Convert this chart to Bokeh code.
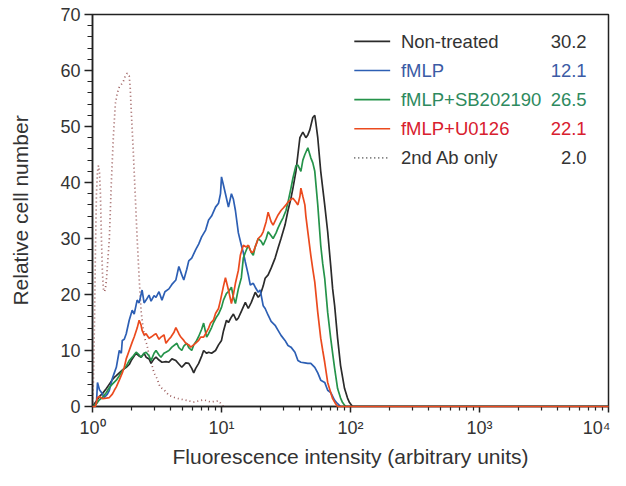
from bokeh.plotting import figure
from bokeh.models import FixedTicker, Label, Range1d
from bokeh.embed import file_html
from bokeh.resources import INLINE

# ---------------- data ----------------
ab_x = [1.000, 1.018, 1.036, 1.054, 1.073, 1.093, 1.112, 1.132, 1.152, 1.173, 1.194, 1.215, 1.237,
        1.259, 1.281, 1.304, 1.351, 1.400, 1.450, 1.503, 1.557, 1.613, 1.672, 1.732, 1.794, 1.859,
        1.926, 1.960, 1.995, 2.067, 2.142, 2.219, 2.299, 2.382, 2.467, 2.557, 2.649, 2.745, 2.844,
        3.000, 3.162, 3.336, 3.580, 3.911, 4.429, 5.102, 6.090, 7.270, 8.230, 9.483, 10.36]
ab_y = [0, 5, 15, 28, 38, 42, 43, 42, 38, 30, 24, 21, 20.5,
        21, 22.5, 25, 30, 40, 48, 54, 56, 57, 57.5, 58, 59, 59.5,
        59, 57, 53, 46, 38, 30, 23, 17, 14, 12, 11, 9, 8,
        6, 5, 3.5, 3, 2, 1.5, 1.2, 0.8, 1.2, 0.8, 1.0, 0]

fmlp_x = [1.000, 1.073, 1.093, 1.132, 1.173, 1.237, 1.304, 1.351, 1.425, 1.476, 1.530, 1.613, 1.672,
          1.702, 1.763, 1.826, 1.926, 2.031, 2.104, 2.219, 2.299, 2.424, 2.512, 2.603, 2.745, 2.844,
          3.000, 3.107, 3.277, 3.455, 3.643, 3.911, 4.125, 4.429, 4.670, 4.924, 5.102, 5.380, 5.574,
          5.878, 6.310, 6.654, 7.017, 7.533, 7.943, 8.377, 8.990, 9.483, 9.824, 10.0, 10.36, 10.73,
          11.32, 11.94, 12.37, 12.82, 13.51, 14.25, 14.76, 15.30, 16.13, 16.72, 17.63, 18.26, 19.26,
          19.95, 21.04, 21.80, 22.99, 24.25, 26.03, 27.45, 28.94, 31.07, 32.77, 34.56, 37.09, 39.11,
          41.25, 44.29, 46.70, 49.24, 52.86, 55.75, 58.78, 63.10, 66.55, 70.20, 75.34, 79.43, 83.77,
          10000]
fmlp_y = [0, 0.5, 4.3, 3.0, 2.5, 1.6, 2.2, 2.9, 5, 6, 7, 10, 9.5,
          11.8, 12, 13, 15.4, 17.2, 16.5, 19, 18.5, 20.8, 18.5, 19, 19.9, 18.8,
          19.8, 19.5, 20.5, 19, 20.5, 21, 21.8, 22.6, 25, 23.5, 22.6, 24.5, 26,
          26.5, 28, 29, 30.3, 31.5, 33.3, 34, 35.6, 36.3, 38, 41, 39.5, 38,
          35.6, 38, 37, 35, 31, 28.8, 27.5, 25.8, 23.5, 21.7, 22, 21.3, 20.4,
          20.8, 18, 17.5, 16.3, 15.2, 14.5, 13.6, 12.7, 11.8, 10.9, 10.6, 9.7, 8.2,
          7.9, 7.8, 7.7, 7.7, 7.0, 6.0, 4.7, 4.3, 2.9, 2.5, 1.1, 0.5, 0,
          0]

nt_x = [1.000, 1.073, 1.132, 1.194, 1.281, 1.351, 1.425, 1.476, 1.530, 1.613, 1.702, 1.826, 1.926,
        1.995, 2.104, 2.180, 2.299, 2.382, 2.512, 2.603, 2.745, 2.844, 3.000, 3.107, 3.277, 3.455,
        3.709, 3.911, 4.125, 4.429, 4.670, 4.924, 5.286, 5.574, 5.878, 6.090, 6.310, 6.654, 7.017,
        7.270, 7.667, 7.943, 8.377, 8.990, 9.483, 10.0, 10.36, 10.93, 11.32, 11.94, 12.37, 13.05,
        13.51, 14.25, 15.30, 16.13, 17.02, 18.26, 19.26, 19.95, 21.04, 21.80, 22.99, 24.25, 26.03,
        27.45, 28.94, 31.07, 32.77, 34.56, 35.80, 37.75, 39.11, 40.53, 42.73, 45.08, 46.70, 48.38,
        51.03, 52.86, 53.79, 55.75, 58.78, 60.90, 63.10, 66.55, 70.20, 72.71, 75.34, 79.43, 83.77,
        89.94, 94.82, 98.24, 103.6, 10000]
nt_y = [0, 1, 1.8, 2.3, 3.2, 4, 4.8, 5.2, 5.5, 6, 6.5, 7, 7.5,
        8.2, 9, 9.5, 9, 8.8, 9.5, 8.8, 8.5, 7.7, 8.5, 8.8, 8.3, 7.9,
        8.0, 7.9, 8.5, 8.2, 7.6, 7.0, 7.8, 7.7, 6.8, 6.0, 6.8, 7.7, 9,
        10, 9.5, 9.7, 9.5, 10, 11, 11.8, 13.5, 15.4, 15, 16, 16.5, 15.4,
        15.8, 17, 18.6, 17.5, 18.6, 20.4, 19.5, 19.9, 21.5, 22.9, 23.5, 24.7, 26.5,
        28.3, 30, 32.4, 35, 37.2, 39, 42, 45, 48, 49, 48, 48.5, 49.4,
        51.6, 52, 50.8, 48, 42, 39, 36, 31.2, 25.2, 21, 18, 12.2, 7.3,
        3.2, 1.5, 0.7, 0, 0]

sb_x = [1.000, 1.073, 1.132, 1.194, 1.281, 1.351, 1.425, 1.530, 1.613, 1.702, 1.826, 1.926, 2.067,
        2.180, 2.299, 2.382, 2.512, 2.603, 2.745, 2.844, 3.000, 3.107, 3.277, 3.395, 3.580, 3.709,
        3.911, 4.125, 4.508, 4.670, 4.924, 5.102, 5.380, 5.574, 5.878, 6.090, 6.422, 6.654, 7.017,
        7.270, 7.667, 7.943, 8.377, 8.682, 9.152, 9.483, 10.0, 10.36, 10.93, 11.32, 11.94, 12.37,
        12.82, 13.51, 14.25, 14.76, 15.30, 16.13, 17.02, 17.63, 18.26, 19.26, 20.31, 21.04, 22.19,
        22.99, 24.25, 25.12, 26.50, 27.45, 28.94, 30.00, 31.62, 32.77, 34.56, 35.80, 37.75, 39.11,
        41.25, 42.73, 44.29, 46.70, 49.24, 51.03, 52.86, 55.75, 58.78, 60.90, 63.10, 66.55, 70.20,
        72.71, 75.34, 79.43, 83.77, 86.81, 91.53, 10000]
sb_y = [0, 0.5, 1.2, 1.6, 2.5, 3.4, 4, 4.7, 5.5, 6.4, 7.2, 8.2, 9,
        9.7, 9.2, 8.8, 9.5, 9.7, 9, 8.2, 9.5, 10, 9.2, 8.8, 9.5, 9.7,
        10, 10.6, 11.3, 10.5, 10, 10.8, 11.3, 10.5, 10, 11, 11.8, 12.5, 13.8,
        14.9, 12.4, 13, 14.1, 15, 16, 16.5, 17.7, 19, 20.2, 20.5, 21.3, 19.5,
        18.4, 21, 23, 26.5, 27.5, 28.8, 27.5, 27, 28.5, 30, 29.5, 28.8, 30,
        31.2, 30.5, 30, 31, 31.9, 33, 33.7, 35, 36.5, 39, 40.8, 43, 43.1,
        42, 44, 45, 46.2, 44.4, 43.5, 42, 36, 28.8, 25.5, 22.9, 16.8, 12.2,
        9.5, 6.8, 3.2, 1.5, 0.7, 0, 0]

u0_x = [1.000, 1.054, 1.093, 1.132, 1.194, 1.281, 1.351, 1.425, 1.476, 1.530, 1.613, 1.702, 1.763,
        1.826, 1.926, 2.031, 2.104, 2.219, 2.299, 2.382, 2.424, 2.512, 2.603, 2.745, 2.844, 3.000,
        3.107, 3.277, 3.395, 3.580, 3.709, 3.911, 4.053, 4.273, 4.429, 4.670, 4.838, 5.102, 5.286,
        5.574, 5.774, 6.090, 6.310, 6.654, 6.894, 7.270, 7.533, 7.943, 8.230, 8.682, 8.990, 9.483,
        9.824, 10.36, 10.73, 11.32, 11.94, 12.37, 12.82, 13.51, 14.00, 14.76, 15.57, 16.13, 17.02,
        17.63, 18.59, 19.26, 20.31, 21.04, 22.19, 22.99, 24.25, 25.12, 26.50, 27.45, 28.94, 30.00,
        31.62, 32.77, 34.56, 35.80, 37.75, 39.11, 40.53, 41.25, 42.73, 44.29, 45.08, 46.70, 49.24,
        51.03, 52.86, 55.75, 58.78, 60.90, 63.10, 66.55, 70.20, 72.71, 76.66, 79.43, 10000]
u0_y = [0, 0, 1.6, 1.8, 1.4, 1.5, 1.6, 2.2, 2.9, 3.5, 4.7, 6, 7,
        8.5, 10, 11.5, 12.4, 14, 15.4, 14.5, 13.6, 12.8, 13, 12.2, 12.4, 12.8,
        13, 12, 12.4, 12.8, 11.3, 12, 12.4, 13.2, 14.1, 13, 12.4, 11.8, 11.3,
        11, 10.6, 11, 11.3, 11.8, 12.4, 12.4, 13, 14, 14.9, 15.5, 16.6, 17.5,
        19, 21.5, 23, 20.8, 18.4, 20, 22, 24.3, 27, 28.8, 28.5, 28.8, 27.5,
        27.6, 29, 30, 30.5, 31.2, 33, 34.7, 33, 32.4, 33.5, 34.2, 35, 35.4,
        36, 36.5, 37, 37.2, 36.5, 36, 37.5, 39, 37.5, 36, 34, 31.2, 27,
        24.5, 22.2, 16.8, 12.2, 10, 7.9, 4.3, 2.5, 1.4, 0.5, 0, 0]

legend_names = ["Non-treated", "fMLP", "fMLP+SB202190", "fMLP+U0126", "2nd Ab only"]
legend_values = ["30.2", "12.1", "26.5", "22.1", "2.0"]
x_tick_values = [1, 10, 100, 1000, 10000]
x_tick_labels = ["10\u2070", "10\u00b9", "10\u00b2", "10\u00b3", "10\u2074"]
y_tick_values = [0, 10, 20, 30, 40, 50, 60, 70]

# ---------------- styling ----------------
FONT = "Liberation Sans"
line_colors = ["#2b2b2b", "#2d5fb4", "#25934a", "#eb4a1e", "#9a5a5a"]
text_colors = ["#333333", "#3b5ba5", "#2e8a5e", "#d8202e", "#333333"]

p = figure(x_axis_type="log", width=610, height=470,
           min_border_left=92, min_border_right=2, min_border_top=14, min_border_bottom=64,
           x_range=Range1d(1, 10000), y_range=Range1d(0, 70),
           output_backend="svg", toolbar_location=None)
p.grid.visible = False
p.background_fill_color = "white"
p.border_fill_color = "white"
p.outline_line_color = "#222222"
p.outline_line_width = 1.5

minor_x = [m * 10 ** k for k in range(4) for m in range(2, 10)]
p.xaxis.ticker = FixedTicker(ticks=x_tick_values, minor_ticks=minor_x)
p.xaxis.major_label_overrides = {v: l for v, l in zip(x_tick_values, x_tick_labels)}
p.yaxis.ticker = FixedTicker(ticks=y_tick_values, minor_ticks=list(range(0, 71, 2)))

for ax in (p.xaxis, p.yaxis):
    ax.axis_line_color = "#222222"
    ax.axis_line_width = 1.5
    ax.major_tick_line_color = "#222222"
    ax.minor_tick_line_color = "#222222"
    ax.major_tick_line_width = 1.5
    ax.minor_tick_line_width = 1.2
    ax.major_tick_in = 0
    ax.minor_tick_in = 0
    ax.major_label_text_font = FONT
    ax.major_label_text_font_size = "18px"
    ax.major_label_text_color = "#333333"
    ax.axis_label_text_font = FONT
    ax.axis_label_text_font_size = "21px"
    ax.axis_label_text_font_style = "normal"
    ax.axis_label_text_color = "#333333"

p.xaxis.major_tick_out = 6
p.xaxis.minor_tick_out = 4
p.yaxis.major_tick_out = 8
p.yaxis.minor_tick_out = 5
p.xaxis.major_label_standoff = 5
p.yaxis.major_label_standoff = 4
p.xaxis.axis_label = "Fluorescence intensity (arbitrary units)"
p.yaxis.axis_label = "Relative cell number"
p.xaxis.axis_label_standoff = 4
p.yaxis.axis_label_standoff = 25

# curves
p.line(ab_x, ab_y, line_color=line_colors[4], line_width=1.7, line_dash="1 3")
p.line(nt_x, nt_y, line_color=line_colors[0], line_width=1.7)
p.line(fmlp_x, fmlp_y, line_color=line_colors[1], line_width=1.7)
p.line(sb_x, sb_y, line_color=line_colors[2], line_width=1.7)
r_red = p.line(u0_x, u0_y, line_color=line_colors[3], line_width=1.7)
r_red.level = "overlay"

# legend (positions in data space of the frame)
leg_x0, leg_x1 = 107, 203
name_x = 246
value_x = 6770
row_y = [65.2, 60.0, 54.8, 49.6, 44.4]
dashes = ["solid", "solid", "solid", "solid", "1 3"]
for i in range(5):
    col = line_colors[i] if i < 4 else "#555555"
    p.segment(x0=[leg_x0], y0=[row_y[i]], x1=[leg_x1], y1=[row_y[i]],
              line_color=col, line_width=1.6, line_dash=dashes[i])
    p.add_layout(Label(x=name_x, y=row_y[i], text=legend_names[i], text_font=FONT,
                       text_font_size="18.5px", text_color=text_colors[i],
                       text_baseline="middle", text_align="left"))
    p.add_layout(Label(x=value_x, y=row_y[i], text=legend_values[i], text_font=FONT,
                       text_font_size="18.5px", text_color=text_colors[i],
                       text_baseline="middle", text_align="right"))

open("out.html", "w").write(file_html(p, INLINE))
